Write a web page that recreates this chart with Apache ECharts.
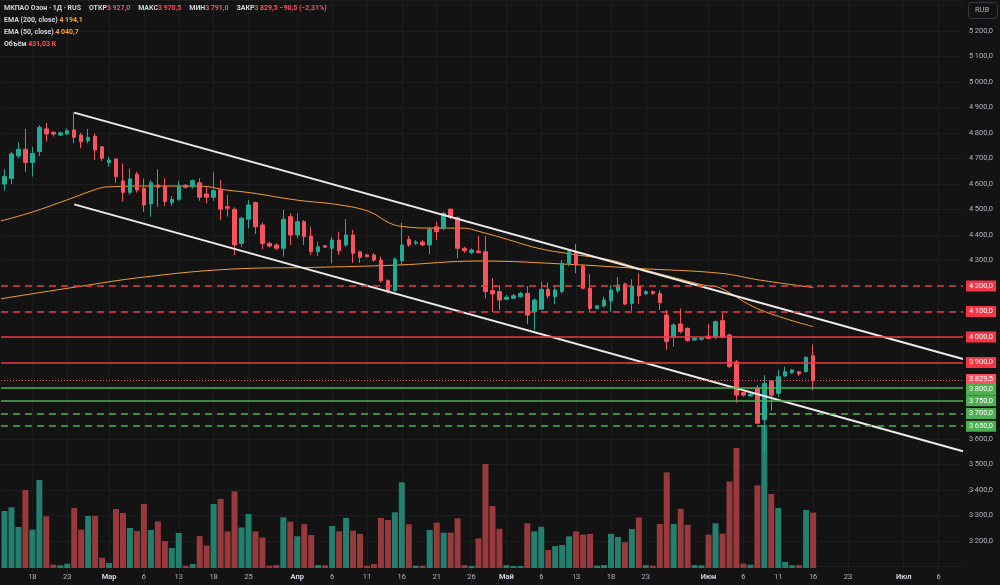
<!DOCTYPE html>
<html><head><meta charset="utf-8">
<script src="https://cdn.jsdelivr.net/npm/echarts@6/dist/echarts.min.js"></script>
<style>html,body{margin:0;padding:0;background:#131313;}#c{width:1000px;height:585px;}</style>
</head><body><div id="c"></div>
<script>
// ---- data ----
const open  = [4600,4622,4710,4736,4684,4727,4816,4803,4792,4796,4812,4792,4770,4788,4746,4684,4698,4612,4567,4638,
               4583,4522,4596,4592,4527,4540,4595,4589,4605,4561,4548,4579,4511,4501,4367,4462,4527,4439,4367,4361,
               4348,4472,4400,4452,4396,4334,4358,4348,4380,4361,4400,4334,4322,4322,4302,4221,4182,4299,4383,4368,
               4372,4361,4432,4426,4501,4469,4348,4331,4337,4334,4182,4178,4148,4152,4158,4171,4099,4109,4187,4158,
               4178,4289,4334,4278,4191,4112,4122,4142,4182,4208,4132,4197,4169,4178,4171,4086,3999,4051,4034,3988,
               3991,4004,4001,4064,4008,3903,3782,3769,3799,3675,3827,3779,3847,3860,3864,3864,3927];
const high  = [4658,4727,4764,4816,4746,4831,4840,4806,4805,4818,4880,4801,4816,4799,4749,4707,4701,4681,4661,4648,
               4622,4616,4658,4622,4553,4613,4600,4618,4622,4592,4648,4616,4557,4509,4472,4537,4531,4448,4374,4367,
               4498,4485,4485,4459,4432,4374,4361,4393,4413,4462,4420,4338,4326,4328,4315,4226,4312,4448,4396,4380,
               4380,4432,4452,4491,4505,4472,4354,4348,4396,4396,4230,4197,4165,4169,4178,4200,4152,4217,4213,4204,
               4302,4341,4365,4286,4247,4126,4158,4204,4236,4213,4226,4250,4184,4182,4184,4106,4054,4112,4038,3999,
               3999,4051,4064,4093,4014,3910,3786,3780,3812,3851,3831,3871,3884,3875,3867,3925,3970.5];
const low   = [4574,4600,4701,4648,4629,4710,4766,4786,4788,4792,4760,4740,4760,4694,4690,4668,4605,4531,4557,4566,
               4491,4472,4511,4514,4514,4534,4582,4582,4534,4524,4534,4459,4472,4322,4352,4426,4404,4344,4352,4341,
               4315,4361,4387,4361,4322,4318,4349,4289,4322,4354,4291,4291,4312,4295,4213,4171,4178,4282,4354,4361,
               4357,4325,4380,4420,4462,4309,4331,4325,4328,4152,4099,4106,4145,4148,4154,4051,4027,4106,4152,4129,
               4171,4278,4250,4187,4099,4109,4116,4099,4171,4125,4103,4129,4165,4165,4106,3949,3962,4014,3982,3985,
               3986,3991,3991,3995,3877,3742,3766,3765,3659,3550,3711,3766,3844,3856,3847,3860,3791];
const close = [4629,4718,4736,4684,4720,4822,4796,4796,4801,4809,4783,4766,4783,4733,4701,4694,4629,4567,4620,4576,
               4518,4605,4587,4531,4540,4592,4587,4613,4548,4548,4574,4501,4505,4361,4466,4518,4432,4367,4357,4348,
               4462,4400,4452,4393,4334,4354,4353,4380,4338,4400,4328,4312,4315,4302,4221,4182,4305,4361,4361,4372,
               4361,4422,4413,4485,4469,4348,4338,4341,4331,4178,4169,4145,4156,4162,4171,4086,4145,4187,4161,4184,
               4289,4334,4282,4191,4112,4122,4145,4184,4204,4129,4200,4161,4178,4171,4135,3982,4047,4021,3986,3995,
               3995,3994,4060,3999,3884,3772,3772,3776,3662,3818,3772,3844,3864,3871,3855,3920,3829.5];
const volumeK = [444,473,320,608,299,686,403,26,21,34,468,299,405,405,80,39,460,429,312,288,
                 499,296,363,210,156,273,18,31,249,176,499,538,285,597,316,421,285,238,18,23,
                 395,361,247,341,257,23,21,327,286,390,291,265,18,31,390,374,434,668,341,18,
                 18,296,353,275,275,387,23,16,231,811,483,306,23,16,16,348,286,322,140,171,
                 179,247,285,260,265,18,23,267,242,200,304,394,23,18,343,745,343,462,337,23,
                 21,260,348,267,675,935,34,26,644,1115,577,468,47,21,23,452,431.03];
const ema50Pts = [[-0.5,4455],[4.1,4491],[8.9,4537],[13.7,4584],[15.1,4589],[20.9,4592],[28,4592],[31.9,4576],
                  [35.2,4566],[41.9,4537],[48.1,4518],[52.4,4491],[55.3,4446],[57.2,4433],[61,4427],[65.8,4427],
                  [68.2,4413],[71.5,4388],[76.4,4349],[81.1,4326],[86.9,4302],[90.8,4271],[95.5,4237],[100.2,4204],
                  [102.7,4192],[107.4,4119],[111.7,4075],[116,4040.7]];
const ema200Pts = [[-0.5,4150],[10,4195],[20,4235],[32.4,4266],[44.3,4273],[56.3,4282],[68.2,4298],[81.1,4285],
                   [90.8,4269],[102.7,4250],[108.4,4223],[116,4194.1]];
const xTickLabels = [[4,'18'],[9,'23'],[15,'Мар'],[20,'6'],[25,'13'],[30,'18'],[35,'25'],[42,'Апр'],[47,'6'],
                     [52,'11'],[57,'16'],[62,'21'],[67,'26'],[72,'Май'],[77,'6'],[82,'13'],[87,'18'],[92,'23'],
                     [101,'Июн'],[106,'6'],[111,'11'],[116,'16'],[121,'23'],[129,'Июл'],[134,'6']];
const monthNames = ['Мар','Апр','Май','Июн','Июл'];
const resistLevels = [[4200,'dashed'],[4100,'dashed'],[4000,'solid'],[3900,'solid']];
const supportLevels = [[3800,'solid'],[3750,'solid'],[3700,'dashed'],[3650,'dashed']];
const trendUpper = [[10,4880],[137.5,3914]];
const trendLower = [[10,4520],[137.5,3552]];
const totalBars = 138;
const priceMin = 3027.45, priceMax = 5321.57;   // visible price range of the pane
const labelMin = 3200, labelMax = 5200;

// ---- helpers ----
function fmt(v, d) {
  const neg = v < 0; const s = Math.abs(v).toFixed(d);
  let [i, f] = s.split('.');
  i = i.replace(/\B(?=(\d{3})+(?!\d))/g, '\u2009');
  return (neg ? '\u2212' : '') + (f ? i + ',' + f : i);
}
const UP = '#22ab94', DOWN = '#f7525f';
const VUP = '#23806f', VDOWN = '#98393c';
const RED = '#f23645', GREEN = '#4caf50', ORANGE = '#f5a030';
const GRIDC = '#1d1d1d';
const FONT = 'Roboto, "DejaVu Sans", sans-serif';

const cats = Array.from({length: totalBars}, (_, i) => String(i));
const tickMap = new Map(xTickLabels);
const last = open.length - 1;
const chg = close[last] - close[last - 1];
const pct = chg / close[last - 1] * 100;
const hiddenAxis = new Set([...resistLevels, ...supportLevels].map(l => l[0]));

const tagLabel = (text, color, dy) => ({
  show: true, position: 'end', distance: 3, formatter: text, color: '#ffffff', offset: [0, dy || 0],
  backgroundColor: color, padding: [2, 3, 1, 3], fontSize: 7.5, fontFamily: FONT
});
const levelLine = (lv, color, dy) => ({
  yAxis: lv[0],
  lineStyle: {color: color, width: 1.5, type: lv[1] === 'dashed' ? [7, 5] : 'solid'},
  label: tagLabel(fmt(lv[0], 1), color, dy)
});

const title1 = `{t|МКПАО Озон · 1Д · RUS}{k|ОТКР}{r|${fmt(open[last],1)}}{k|МАКС}{r|${fmt(high[last],1)}}{k|МИН}{r|${fmt(low[last],1)}}{k|ЗАКР}{r|${fmt(close[last],1)} ${fmt(chg,1)} (${fmt(pct,2)}%)}`;
const title2 = `{l|EMA (200, close)} {o|${fmt(ema200Pts[ema200Pts.length-1][1],1)}}`;
const title3 = `{l|EMA (50, close)} {o|${fmt(ema50Pts[ema50Pts.length-1][1],1)}}`;
const title4 = `{l|Объём} {r|${fmt(volumeK[last],2)} K}`;
const TF = 7;

const chart = echarts.init(document.getElementById('c'), null, {renderer: 'canvas', width: 1000, height: 585});
chart.setOption({
  backgroundColor: '#131313',
  animation: false,
  textStyle: {fontFamily: FONT},
  title: {
    left: 4, top: 2, padding: 0,
    text: [title1, title2, title3, title4].join('\n'),
    textStyle: {
      fontSize: TF, lineHeight: 12,
      rich: {
        t: {color: '#d1d4dc', fontSize: TF, lineHeight: 12, fontFamily: FONT},
        l: {color: '#d1d4dc', fontSize: TF, lineHeight: 12, fontFamily: FONT},
        k: {color: '#d1d4dc', fontSize: TF, lineHeight: 12, fontFamily: FONT, padding: [0, 0, 0, 8]},
        r: {color: DOWN, fontSize: TF, lineHeight: 12, fontFamily: FONT},
        o: {color: ORANGE, fontSize: TF, lineHeight: 12, fontFamily: FONT}
      }
    }
  },
  graphic: [
    {type: 'rect', left: 968, top: 2, shape: {width: 29, height: 16, r: 3},
     style: {fill: 'transparent', stroke: '#363a45', lineWidth: 1}},
    {type: 'text', left: 975, top: 6, style: {text: 'RUB', fill: '#b2b5be', fontSize: 7.5, fontFamily: FONT}}
  ],
  grid: [
    {left: 1, right: 37, top: 0, bottom: 0},
    {left: 1, right: 37, top: 400, bottom: 17}
  ],
  xAxis: [
    {type: 'category', gridIndex: 0, data: cats, boundaryGap: true, show: false},
    {type: 'value', gridIndex: 0, min: -0.5, max: totalBars - 0.5, show: false, position: 'top'},
    {type: 'category', gridIndex: 1, data: cats, boundaryGap: true,
     axisLine: {show: false}, axisTick: {show: false}, splitLine: {show: false},
     axisLabel: {
       interval: (i) => tickMap.has(i), hideOverlap: false, margin: 5,
       fontSize: 7.5, color: '#b2b5be', fontFamily: FONT,
       formatter: (v) => { const s = tickMap.get(+v) || ''; return monthNames.includes(s) ? '{m|' + s + '}' : s; },
       rich: {m: {fontWeight: 'bold', fontSize: 7.5, color: '#d1d4dc', fontFamily: FONT}}
     }}
  ],
  yAxis: [
    {type: 'value', gridIndex: 0, position: 'right', min: priceMin, max: priceMax,
     splitNumber: 23, minInterval: 100, maxInterval: 100,
     axisLine: {show: false}, axisTick: {show: false},
     splitLine: {show: true, lineStyle: {color: GRIDC, width: 1}},
     axisLabel: {margin: 6, fontSize: 7.5, color: '#b2b5be', fontFamily: FONT, showMinLabel: false, showMaxLabel: false,
       formatter: (v) => (v < labelMin || v > labelMax || hiddenAxis.has(v) || v % 100 !== 0) ? '' : fmt(v, 1)}},
    {type: 'value', gridIndex: 1, min: 0, max: 1309, show: false, splitLine: {show: false}}
  ],
  series: [
    {
      name: 'grid', type: 'line', xAxisIndex: 1, yAxisIndex: 0, data: [[-5, 4000]], symbol: 'none',
      lineStyle: {width: 0}, silent: true, z: 0,
      markLine: {silent: true, symbol: ['none', 'none'], z: 0, animation: false,
        lineStyle: {color: GRIDC, width: 1, type: 'solid'}, label: {show: false},
        data: xTickLabels.map(t => ({xAxis: t[0]}))}
    },
    {
      name: 'Объём', type: 'bar', xAxisIndex: 2, yAxisIndex: 1, barWidth: 6, z: 1,
      data: volumeK.map((v, i) => ({value: v, itemStyle: {color: close[i] >= open[i] ? VUP : VDOWN}}))
    },
    {
      name: 'EMA200', type: 'line', xAxisIndex: 1, yAxisIndex: 0, data: ema200Pts, smooth: 0.4,
      symbol: 'none', lineStyle: {color: ORANGE, width: 1}, z: 2, silent: true
    },
    {
      name: 'EMA50', type: 'line', xAxisIndex: 1, yAxisIndex: 0, data: ema50Pts, smooth: 0.4,
      symbol: 'none', lineStyle: {color: ORANGE, width: 1}, z: 2, silent: true
    },
    {
      name: 'OZON', type: 'candlestick', xAxisIndex: 0, yAxisIndex: 0, barWidth: 4, z: 3,
      data: open.map((o, i) => [o, close[i], low[i], high[i]]),
      itemStyle: {color: UP, color0: DOWN, borderColor: UP, borderColor0: DOWN, borderWidth: 1},
      markLine: {
        silent: true, symbol: ['none', 'none'], animation: false,
        data: [
          ...resistLevels.map(l => levelLine(l, RED, 0)),
          {yAxis: close[last], lineStyle: {color: DOWN, width: 1, type: [1, 2]},
           label: tagLabel(fmt(close[last], 1), DOWN, -1)},
          ...supportLevels.map((l, k) => levelLine(l, GREEN, k === 0 ? 1.5 : 0))
        ]
      }
    },
    {
      name: 'trendUpper', type: 'line', xAxisIndex: 1, yAxisIndex: 0, data: trendUpper, symbol: 'none',
      lineStyle: {color: '#ececec', width: 2}, z: 4, silent: true
    },
    {
      name: 'trendLower', type: 'line', xAxisIndex: 1, yAxisIndex: 0, data: trendLower, symbol: 'none',
      lineStyle: {color: '#ececec', width: 2}, z: 4, silent: true
    }
  ]
});
</script>
</body></html>
